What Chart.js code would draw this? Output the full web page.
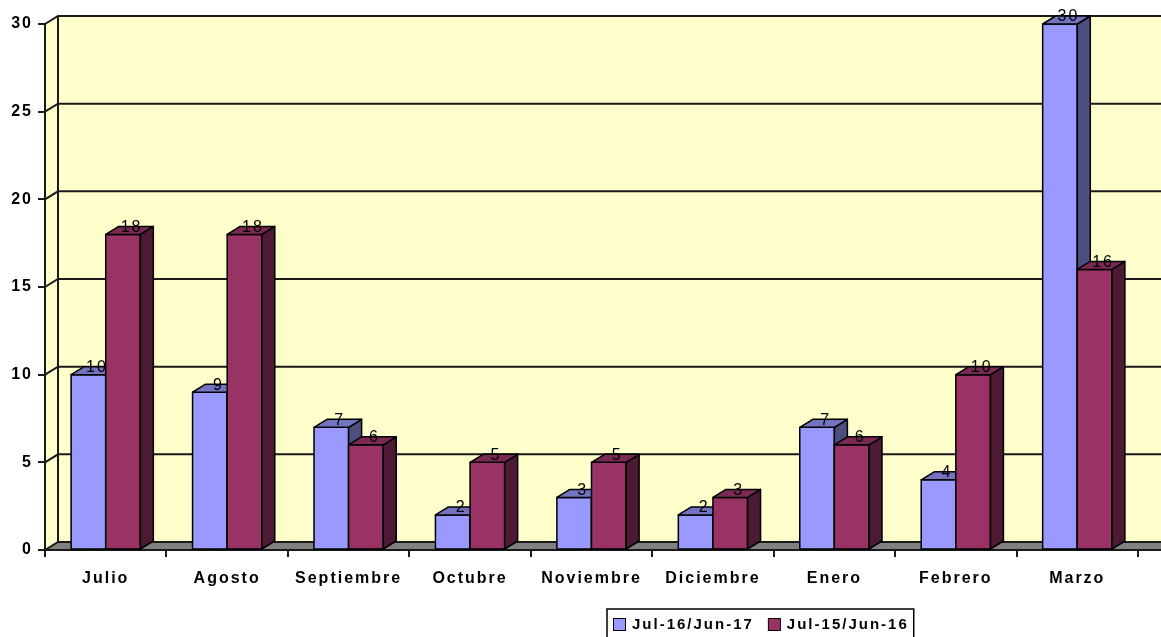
<!DOCTYPE html>
<html>
<head>
<meta charset="utf-8">
<script src="https://cdn.jsdelivr.net/npm/chart.js@4"></script>
<style>
  html, body { margin: 0; padding: 0; background: #fff; }
  #wrap { width: 1161px; height: 637px; position: relative; }
</style>
</head>
<body>
<div id="wrap"><canvas id="chart"></canvas></div>
<script>
// data
const months = ['Julio', 'Agosto', 'Septiembre', 'Octubre', 'Noviembre', 'Diciembre', 'Enero', 'Febrero', 'Marzo'];
const seriesNames = ['Jul-16/Jun-17', 'Jul-15/Jun-16'];
const current = [10, 9, 7, 2, 3, 2, 7, 4, 30];
const previous = [18, 18, 6, 5, 5, 3, 6, 10, 16];
const yTicks = [0, 5, 10, 15, 20, 25, 30];

// 3d look
const DX = 13, DY = 8;
const faces = [
    { front: '#9999FF', side: '#4D4D80', top: '#7373BF' },
    { front: '#993366', side: '#4D1A33', top: '#7A2952' }
];
const FONT = 'Arial, "Liberation Sans", sans-serif';

function poly(ctx, pts, fill) {
    ctx.beginPath();
    ctx.moveTo(pts[0][0], pts[0][1]);
    for (let i = 1; i < pts.length; i++) ctx.lineTo(pts[i][0], pts[i][1]);
    ctx.closePath();
    ctx.fillStyle = fill;
    ctx.fill();
    ctx.stroke();
}

// back wall, side wall, floor and grid lines
const wallPlugin = {
    id: 'wall',
    beforeDraw(chart) {
        const { ctx, chartArea: a, scales: { y } } = chart;
        const W = chart.width;
        ctx.letterSpacing = '2px';
        ctx.save();
        ctx.strokeStyle = '#1a1a1a';
        ctx.lineWidth = 2;
        ctx.fillStyle = '#FFFFCC';
        ctx.fillRect(a.left + DX, a.top - DY, W - a.left - DX, a.bottom - a.top);
        ctx.beginPath();
        ctx.moveTo(a.left, a.bottom);
        ctx.lineTo(a.left, a.top);
        ctx.lineTo(a.left + DX, a.top - DY);
        ctx.lineTo(a.left + DX, a.bottom - DY);
        ctx.closePath();
        ctx.fill();
        // floor
        ctx.lineWidth = 1;
        poly(ctx, [[a.left, a.bottom], [a.left + DX, a.bottom - DY], [W + 2, a.bottom - DY], [W + 2, a.bottom]], '#808080');
        ctx.lineWidth = 2;
        // grid lines
        ctx.beginPath();
        y.ticks.forEach(t => {
            const py = y.getPixelForValue(t.value);
            ctx.moveTo(a.left, py);
            ctx.lineTo(a.left + DX, py - DY);
            ctx.lineTo(W, py - DY);
        });
        ctx.moveTo(a.left + DX, a.top - DY);
        ctx.lineTo(a.left + DX, a.bottom - DY);
        ctx.stroke();
        ctx.restore();
    },
    afterDraw(chart) {
        const { ctx, chartArea: a } = chart;
        ctx.save();
        ctx.strokeStyle = '#1a1a1a';
        ctx.lineWidth = 2;
        ctx.beginPath();
        ctx.moveTo(a.right, a.bottom);
        ctx.lineTo(chart.width, a.bottom);
        ctx.stroke();
        ctx.restore();
    }
};

// bar fronts, sides, tops and value labels
const bars3d = {
    id: 'bars3d',
    afterDatasetsDraw(chart) {
        const ctx = chart.ctx;
        ctx.save();
        ctx.strokeStyle = '#000';
        ctx.lineWidth = 1.5;
        ctx.lineJoin = 'round';
        const n = chart.data.labels.length;
        for (let i = 0; i < n; i++) {
            chart.data.datasets.forEach((ds, d) => {
                const el = chart.getDatasetMeta(d).data[i];
                const { x, y, base, width } = el.getProps(['x', 'y', 'base', 'width'], true);
                const L = x - width / 2, R = x + width / 2;
                const c = faces[d];
                poly(ctx, [[L, y], [R, y], [R, base], [L, base]], c.front);
                poly(ctx, [[R, y], [R + DX, y - DY], [R + DX, base - DY], [R, base]], c.side);
                poly(ctx, [[L, y], [L + DX, y - DY], [R + DX, y - DY], [R, y]], c.top);
            });
        }
        ctx.fillStyle = '#000';
        ctx.font = '16px ' + FONT;
        ctx.letterSpacing = '2px';
        ctx.textAlign = 'center';
        ctx.textBaseline = 'middle';
        chart.data.datasets.forEach((ds, d) => {
            chart.getDatasetMeta(d).data.forEach((el, i) => {
                const { x, y } = el.getProps(['x', 'y'], true);
                ctx.fillText(String(ds.data[i]), x + DX / 2 + 2, y - DY + 1);
            });
        });
        ctx.restore();
    }
};

// boxed legend under the plot
const boxLegend = {
    id: 'boxLegend',
    afterDraw(chart) {
        const ctx = chart.ctx;
        const left = 607, top = 609, sq = 12, mid = 624;
        ctx.save();
        ctx.letterSpacing = '2px';
        ctx.font = 'bold 15px ' + FONT;
        ctx.textBaseline = 'middle';
        ctx.textAlign = 'left';
        ctx.strokeStyle = '#000';
        ctx.lineWidth = 1;
        let x = left + 6, end = x;
        chart.data.datasets.forEach((ds, d) => {
            ctx.fillStyle = faces[d].front;
            ctx.fillRect(x + 0.5, mid - sq / 2 + 0.5, sq, sq);
            ctx.strokeRect(x + 0.5, mid - sq / 2 + 0.5, sq, sq);
            ctx.fillStyle = '#000';
            ctx.fillText(ds.label, x + sq + 7, mid + 1);
            end = x + sq + 7 + ctx.measureText(ds.label).width;
            x = end + 14;
        });
        ctx.lineWidth = 1.5;
        ctx.strokeRect(left, top, end - left + 5, 40);
        ctx.restore();
    }
};

new Chart(document.getElementById('chart'), {
    type: 'bar',
    data: {
        labels: months,
        datasets: [
            { label: seriesNames[0], data: current, backgroundColor: faces[0].front, borderColor: '#000', borderWidth: 1 },
            { label: seriesNames[1], data: previous, backgroundColor: faces[1].front, borderColor: '#000', borderWidth: 1 }
        ]
    },
    options: {
        responsive: true,
        maintainAspectRatio: false,
        animation: false,
        categoryPercentage: 0.57,
        barPercentage: 1,
        layout: { padding: { top: 24, right: 23, left: 0, bottom: 0 } },
        plugins: {
            legend: { display: false },
            tooltip: { enabled: false }
        },
        scales: {
            x: {
                grid: { offset: true, drawOnChartArea: false, tickLength: 7, color: '#1a1a1a', lineWidth: 2 },
                border: { color: '#1a1a1a', width: 2 },
                ticks: { color: '#000', font: { family: FONT, size: 16, weight: 'bold' }, padding: 12, maxRotation: 0 },
                afterFit(s) { s.height = 87; s.paddingLeft = 0; s.paddingRight = 0; }
            },
            y: {
                min: yTicks[0],
                max: yTicks[yTicks.length - 1],
                grid: { drawOnChartArea: false, tickLength: 7, color: '#1a1a1a', lineWidth: 2 },
                border: { color: '#1a1a1a', width: 2 },
                ticks: { stepSize: yTicks[1] - yTicks[0], color: '#000', font: { family: FONT, size: 16, weight: 'bold' }, padding: 5 },
                afterFit(s) { s.width = 45; s.paddingTop = 0; s.paddingBottom = 0; }
            }
        }
    },
    plugins: [wallPlugin, bars3d, boxLegend]
});
</script>
</body>
</html>
